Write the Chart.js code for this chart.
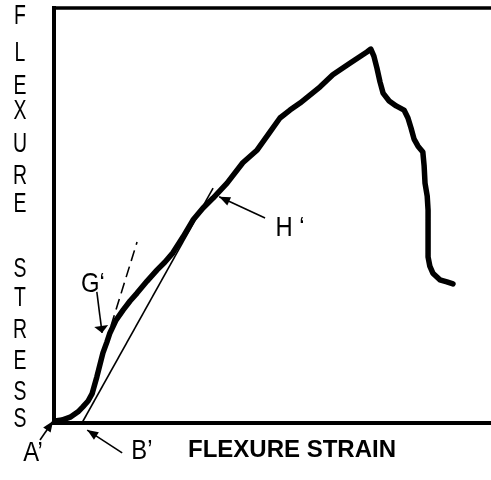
<!DOCTYPE html>
<html>
<head>
<meta charset="utf-8">
<script src="https://cdn.jsdelivr.net/npm/chart.js@4/dist/chart.umd.min.js"></script>
<style>
  html, body { margin: 0; padding: 0; background: #fff; }
  #wrap { width: 491px; height: 480px; }
</style>
</head>
<body>
<div id="wrap"><canvas id="c" width="491" height="480"></canvas></div>
<script>
// Flexure test curve (arbitrary units, 0-100 on both axes)
const strain = [0.2, 1.8, 3.7, 5.5, 6.6, 7.8, 8.7, 9.8, 10.5, 11.2, 12.1, 12.8, 14.2, 15.8, 17.4, 19.0,
  21.3, 23.6, 25.4, 27.2, 29.5, 31.8, 34.1, 36.4, 39.6, 43.2, 46.5, 49.4, 51.7, 54.0, 56.3, 60.9,
  63.8, 67.7, 71.6, 72.5, 73.2, 73.9, 74.6, 75.3, 76.7, 78.3, 80.1, 81.0, 81.7, 82.4, 83.3, 84.4,
  84.7, 84.9, 85.4, 85.6, 85.6, 85.6, 86.0, 86.7, 88.3, 89.9, 91.3];
const stress = [0.5, 0.7, 1.4, 2.7, 3.9, 5.3, 7.0, 11.1, 14.0, 16.9, 19.5, 21.7, 24.8, 27.2, 29.4, 31.3,
  34.2, 36.9, 38.8, 41.0, 44.8, 48.9, 51.8, 54.2, 57.8, 62.7, 65.8, 70.1, 73.5, 75.4, 77.1, 81.0,
  83.9, 86.7, 89.4, 90.1, 88.4, 85.5, 82.2, 79.5, 77.6, 76.4, 75.4, 73.5, 71.1, 68.4, 66.7, 65.3,
  61.9, 57.8, 54.7, 51.3, 45.3, 40.0, 37.8, 36.1, 34.5, 34.0, 33.5];

// secant from B' (solid) and tangent at G' (dashed)
const secantStrain = [6.4, 36.4];
const secantStress = [0.0, 56.6];
const tangentStrain = [11.9, 19.0];
const tangentStress = [19.5, 43.6];

// point labels and their arrows, in data units
const markLabels = ['A\u2019', 'B\u2019', 'G\u2018', 'H \u2018'];
const markTextX = [-4.8, 20.1, 8.9, 54.0];
const markTextY = [-7.0, -6.5, 33.7, 47.2];
const arrowFromX = [-3.2, 15.6, 9.8, 48.3];
const arrowFromY = [-4.1, -7.2, 31.6, 49.4];
const arrowToX = [-0.2, 7.6, 11.0, 37.8];
const arrowToY = [0.5, -1.7, 21.7, 54.5];

const xTitle = 'FLEXURE STRAIN';
const yTitle = ['F', 'L', 'E', 'X', 'U', 'R', 'E', 'S', 'T', 'R', 'E', 'S', 'S'];
const yTitleRows = [15, 52, 85, 110, 143, 175, 203, 268, 297, 329, 360, 391, 418];

const toPts = (xs, ys) => xs.map((x, i) => ({ x, y: ys[i] }));

function arrowHead(ctx, x0, y0, x1, y1, len, half) {
  const a = Math.atan2(y1 - y0, x1 - x0);
  ctx.beginPath();
  ctx.moveTo(x1, y1);
  ctx.lineTo(x1 - len * Math.cos(a) + half * Math.sin(a), y1 - len * Math.sin(a) - half * Math.cos(a));
  ctx.lineTo(x1 - len * Math.cos(a) - half * Math.sin(a), y1 - len * Math.sin(a) + half * Math.cos(a));
  ctx.closePath();
  ctx.fill();
}

const sketchPlugin = {
  id: 'sketch',
  afterDraw(chart) {
    const { ctx, chartArea: area, scales: { x, y } } = chart;
    ctx.save();
    ctx.strokeStyle = '#000';
    ctx.fillStyle = '#000';

    // frame: left, top and bottom only
    ctx.lineCap = 'butt';
    ctx.lineWidth = 4;
    ctx.beginPath();
    ctx.moveTo(area.left, area.top - 2);
    ctx.lineTo(area.left, area.bottom + 2);
    ctx.moveTo(area.left - 2, area.bottom);
    ctx.lineTo(area.right, area.bottom);
    ctx.stroke();
    ctx.lineWidth = 3.5;
    ctx.beginPath();
    ctx.moveTo(area.left - 2, area.top);
    ctx.lineTo(area.right, area.top);
    ctx.stroke();

    // arrows
    ctx.lineWidth = 1.6;
    markLabels.forEach((lab, i) => {
      const x0 = x.getPixelForValue(arrowFromX[i]), y0 = y.getPixelForValue(arrowFromY[i]);
      const x1 = x.getPixelForValue(arrowToX[i]), y1 = y.getPixelForValue(arrowToY[i]);
      ctx.beginPath();
      ctx.moveTo(x0, y0);
      ctx.lineTo(x1, y1);
      ctx.stroke();
      if (i === 2) arrowHead(ctx, x0, y0, x1, y1, 7, 7);
      else arrowHead(ctx, x0, y0, x1, y1, 11, 4.5);
    });

    // labels
    ctx.textAlign = 'center';
    ctx.textBaseline = 'middle';
    ctx.font = '28px "Liberation Sans", Arial, sans-serif';
    markLabels.forEach((lab, i) => {
      const tx = x.getPixelForValue(markTextX[i]), ty = y.getPixelForValue(markTextY[i]);
      ctx.save();
      ctx.translate(tx, ty);
      ctx.scale(0.85, 1);
      ctx.fillText(lab, 0, 1);
      ctx.restore();
    });

    // stacked y title
    ctx.font = '27px "Liberation Sans", Arial, sans-serif';
    yTitle.forEach((ch, i) => {
      ctx.save();
      ctx.translate(20, yTitleRows[i]);
      ctx.scale(0.72, 1.05);
      ctx.fillText(ch, 0, 1);
      ctx.restore();
    });

    // x title
    ctx.font = 'bold 24px "Liberation Sans", Arial, sans-serif';
    ctx.fillText(xTitle, 292, 450);
    ctx.restore();
  }
};

new Chart(document.getElementById('c'), {
  type: 'scatter',
  data: {
    datasets: [
      {
        data: toPts(strain, stress),
        showLine: true,
        borderColor: '#000',
        borderWidth: 5.5,
        borderJoinStyle: 'round',
        borderCapStyle: 'round',
        pointRadius: 0,
        tension: 0
      },
      {
        data: toPts(secantStrain, secantStress),
        showLine: true,
        borderColor: '#000',
        borderWidth: 1.6,
        pointRadius: 0
      },
      {
        data: toPts(tangentStrain, tangentStress),
        showLine: true,
        borderColor: '#000',
        borderWidth: 1.6,
        borderDash: [11, 6],
        pointRadius: 0
      }
    ]
  },
  options: {
    responsive: false,
    animation: false,
    devicePixelRatio: 1,
    layout: { padding: { left: 54, top: 8, right: 0, bottom: 57 } },
    plugins: { legend: { display: false }, tooltip: { enabled: false } },
    scales: {
      x: { type: 'linear', min: 0, max: 100, display: false },
      y: { type: 'linear', min: 0, max: 100, display: false }
    }
  },
  plugins: [sketchPlugin]
});
</script>
</body>
</html>
